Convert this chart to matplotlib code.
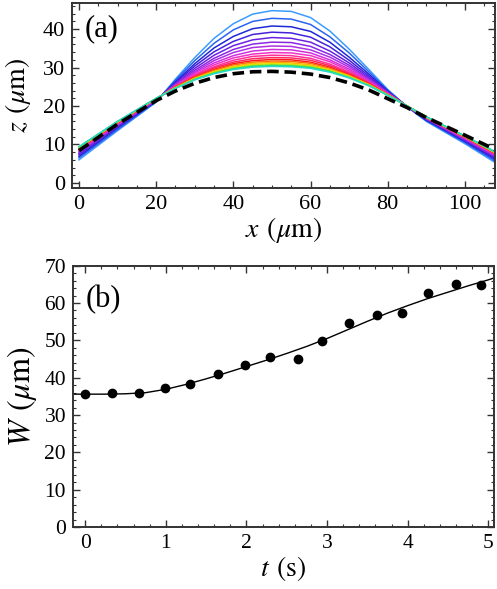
import matplotlib
matplotlib.use("Agg")
import matplotlib.pyplot as plt
from matplotlib.ticker import MultipleLocator

plt.rcParams['font.family'] = 'serif'
plt.rcParams['font.serif'] = ['Liberation Serif', 'DejaVu Serif']
plt.rcParams['mathtext.fontset'] = 'stix'

# ---- panel (a): profiles z(x) ----
x_knots = [0, 10, 20, 25, 30, 35, 40, 45, 50, 55, 60, 65, 70, 75, 80, 85, 90, 100, 108]

profiles = [
    [6.0, 13.6, 21.0, 27.0, 32.6, 37.6, 41.4, 43.9, 44.8, 44.6, 43.0, 39.5, 34.8, 29.6, 24.3, 19.8, 16.0, 10.2, 5.2],
    [6.5, 13.9, 21.1, 26.7, 31.8, 36.3, 39.8, 42.0, 42.8, 42.6, 41.2, 38.0, 33.8, 29.0, 24.1, 19.8, 16.2, 10.5, 5.6],
    [6.9, 14.3, 21.3, 26.3, 31.0, 35.1, 38.1, 40.1, 40.8, 40.6, 39.4, 36.6, 32.7, 28.4, 23.9, 19.9, 16.3, 10.8, 6.0],
    [7.3, 14.5, 21.4, 26.1, 30.4, 34.1, 36.8, 38.6, 39.2, 39.0, 37.9, 35.4, 31.9, 27.9, 23.7, 19.9, 16.5, 11.0, 6.3],
    [7.6, 14.8, 21.5, 25.8, 29.8, 33.2, 35.7, 37.2, 37.8, 37.6, 36.6, 34.3, 31.2, 27.5, 23.6, 19.9, 16.6, 11.2, 6.6],
    [7.9, 15.0, 21.6, 25.6, 29.3, 32.4, 34.7, 36.1, 36.6, 36.5, 35.5, 33.4, 30.6, 27.2, 23.5, 19.9, 16.7, 11.3, 6.8],
    [8.2, 15.1, 21.6, 25.5, 28.9, 31.8, 33.9, 35.2, 35.6, 35.5, 34.6, 32.7, 30.1, 26.9, 23.4, 19.9, 16.8, 11.5, 7.0],
    [8.4, 15.3, 21.7, 25.3, 28.6, 31.2, 33.1, 34.3, 34.7, 34.6, 33.8, 32.0, 29.6, 26.6, 23.3, 19.9, 16.8, 11.6, 7.2],
    [8.6, 15.4, 21.8, 25.2, 28.2, 30.7, 32.5, 33.5, 33.9, 33.8, 33.1, 31.5, 29.2, 26.4, 23.2, 20.0, 16.9, 11.7, 7.3],
    [8.7, 15.5, 21.8, 25.1, 28.0, 30.2, 31.9, 32.9, 33.2, 33.1, 32.4, 30.9, 28.8, 26.2, 23.1, 20.0, 17.0, 11.8, 7.4],
    [8.9, 15.6, 21.8, 25.0, 27.7, 29.9, 31.4, 32.3, 32.6, 32.5, 31.9, 30.5, 28.5, 26.0, 23.0, 20.0, 17.0, 11.9, 7.6],
    [9.0, 15.7, 21.9, 24.9, 27.5, 29.5, 31.0, 31.8, 32.1, 32.0, 31.4, 30.1, 28.2, 25.8, 23.0, 20.0, 17.1, 12.0, 7.7],
    [9.1, 15.8, 21.9, 24.8, 27.4, 29.3, 30.7, 31.4, 31.7, 31.6, 31.1, 29.8, 28.0, 25.7, 23.0, 20.0, 17.1, 12.0, 7.7],
    [9.2, 15.8, 21.9, 24.8, 27.2, 29.0, 30.3, 31.1, 31.3, 31.2, 30.7, 29.5, 27.8, 25.6, 22.9, 20.0, 17.1, 12.1, 7.8],
    [9.2, 15.9, 22.0, 24.7, 27.1, 28.8, 30.1, 30.8, 31.0, 30.9, 30.4, 29.3, 27.7, 25.5, 22.9, 20.0, 17.1, 12.1, 7.9],
    [9.3, 15.9, 22.0, 24.7, 27.0, 28.7, 29.8, 30.5, 30.7, 30.6, 30.2, 29.1, 27.5, 25.4, 22.8, 20.0, 17.2, 12.1, 7.9],
    [9.4, 16.0, 22.0, 24.6, 26.9, 28.5, 29.7, 30.3, 30.5, 30.4, 30.0, 29.0, 27.4, 25.4, 22.8, 20.0, 17.2, 12.2, 8.0],
    [9.4, 16.0, 22.0, 24.6, 26.8, 28.4, 29.5, 30.1, 30.3, 30.2, 29.8, 28.8, 27.3, 25.3, 22.8, 20.0, 17.2, 12.2, 8.0],
]

profile_colors = ['#3a9cff', '#2a64f0', '#1e28d8', '#4422dc', '#6a22e2', '#8a28e4',
                  '#ae30e2', '#d030dc', '#f030c8', '#ff3098', '#ff2860', '#ff1820',
                  '#ff6a10', '#ffb000', '#e6e000', '#8ae020', '#28e070', '#28d8c8']

z_final = [8.4, 15.3, 21.4, 23.9, 25.9, 27.4, 28.4, 28.9, 29.0, 28.8, 28.3, 27.4, 26.0, 24.2, 21.9, 19.6, 17.0, 12.4, 8.6]

# ---- panel (b): width vs time ----
t_data = [0.0, 0.33, 0.67, 0.99, 1.30, 1.65, 1.98, 2.29, 2.64, 2.94, 3.27, 3.62, 3.93, 4.25, 4.60, 4.91]
W_data = [35.7, 35.8, 35.8, 37.2, 38.4, 40.9, 43.4, 45.6, 45.0, 49.8, 54.6, 56.8, 57.3, 62.6, 65.1, 64.9]

t_fit = [-0.15, 0, 0.25, 0.5, 0.75, 1.0, 1.25, 1.5, 1.75, 2.0, 2.25, 2.5, 2.75,
         3.0, 3.25, 3.5, 3.75, 4.0, 4.25, 4.5, 4.75, 5.0, 5.07]
W_fit = [35.6, 35.6, 35.6, 35.7, 36.0, 36.9, 38.2, 39.7, 41.3, 43.0, 44.7, 46.5, 48.4,
         50.5, 52.8, 55.1, 57.3, 59.3, 61.2, 62.9, 64.6, 66.2, 66.7]

fig = plt.figure(figsize=(4.97, 5.89), dpi=100)
ax1 = fig.add_axes([0.145, 0.681, 0.851, 0.314])
ax2 = fig.add_axes([0.147, 0.105, 0.847, 0.444])

for z, c in zip(profiles, profile_colors):
    ax1.plot(x_knots, z, color=c, lw=1.1)
ax1.plot(x_knots, z_final, color='black', lw=2.6, ls=(0, (3.2, 1.6)))

ax1.set_xlim(-1.8, 107.8)
ax1.set_ylim(-1.3, 46.8)
ax1.xaxis.set_major_locator(MultipleLocator(20))
ax1.xaxis.set_minor_locator(MultipleLocator(5))
ax1.yaxis.set_major_locator(MultipleLocator(10))
ax1.yaxis.set_minor_locator(MultipleLocator(2))
ax1.set_xlabel(r'$x\;\,(\mu\mathrm{m})$', fontsize=20, labelpad=1)
ax1.set_ylabel(r'$z\;\,(\mu\mathrm{m})$', fontsize=20, labelpad=7)
ax1.text(0.03, 0.86, '(a)', transform=ax1.transAxes, fontsize=22, va='center')

ax2.plot(t_fit, W_fit, color='black', lw=1.0)
ax2.plot(t_data, W_data, 'o', color='black', ms=6)
ax2.set_xlim(-0.15, 5.07)
ax2.set_ylim(0, 70)
ax2.xaxis.set_major_locator(MultipleLocator(1))
ax2.xaxis.set_minor_locator(MultipleLocator(0.2))
ax2.yaxis.set_major_locator(MultipleLocator(10))
ax2.yaxis.set_minor_locator(MultipleLocator(2))
ax2.set_xlabel(r'$t\;\,(\mathrm{s})$', fontsize=20, labelpad=1)
ax2.set_ylabel(r'$W\;\,(\mu\mathrm{m})$', fontsize=23, labelpad=4)
ax2.text(0.03, 0.87, '(b)', transform=ax2.transAxes, fontsize=22, va='center')

for ax, fs in ((ax1, 16), (ax2, 15.5)):
    ax.tick_params(which='both', direction='in', top=True, right=True,
                   labelsize=fs, color='#333333', pad=5)
    ax.tick_params(which='major', length=5, width=1)
    ax.tick_params(which='minor', length=2.5, width=0.8)
    for s in ax.spines.values():
        s.set_linewidth(1.4)
        s.set_color('#333333')

fig.savefig('out.png', dpi=100)
